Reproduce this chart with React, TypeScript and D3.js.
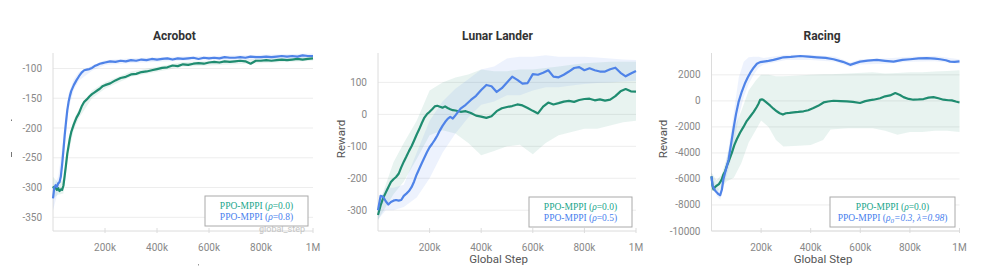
import * as d3 from "d3";
import React from "react";

const GREEN = "#1f8c70";
const BLUE = "#4f83e8";
const GREEN_TXT = "#1ba68c";
const BLUE_TXT = "#4a7fee";

const xTickValues = [200, 400, 600, 800, 1000];
const xTickLabels = ["200k", "400k", "600k", "800k", "1M"];

// Acrobot (steps in thousands)
const acroSteps = [0, 5, 10, 15, 20, 25, 30, 35, 40, 45, 50, 55, 60, 65, 70, 80, 90, 100, 110, 120, 130, 140, 150, 160, 170, 180, 190, 200, 220, 240, 260, 280, 300, 320, 340, 360, 380, 400, 420, 440, 460, 480, 500, 520, 540, 560, 580, 600, 620, 640, 660, 680, 700, 720, 740, 760, 780, 800, 820, 840, 860, 880, 900, 920, 940, 960, 980, 1000];
const acroGreen = [-298, -302, -300, -304, -301, -306, -303, -304, -297, -280, -262, -243, -230, -217, -207, -194, -183, -175, -164, -156, -152, -147, -143, -140, -137, -134, -130, -128, -125, -120, -116, -114, -110, -109, -106, -105, -103, -101, -99, -98, -95, -96, -93, -94, -92, -91, -92, -90, -89, -90, -88, -89, -88, -87, -88, -92, -87, -87, -86, -87, -86, -85, -86, -85, -84, -85, -84, -83];
const acroBlue = [-318, -300, -296, -299, -293, -291, -282, -262, -238, -212, -190, -170, -156, -146, -138, -128, -120, -113, -107, -103, -102, -101, -99, -96, -94, -92, -91, -90, -88, -89, -87, -88, -86, -87, -85, -86, -84, -85, -84, -83, -85, -83, -84, -83, -82, -84, -82, -83, -82, -83, -81, -82, -82, -81, -82, -80, -81, -81, -80, -81, -80, -79, -80, -79, -80, -78, -79, -79];
const acroBandSteps = [0, 20, 40, 60, 80, 100, 150, 200, 300, 500, 1000];
const acroGreenLo = [-318, -312, -310, -242, -203, -183, -150, -134, -114, -97, -87];
const acroGreenHi = [-282, -292, -286, -218, -186, -168, -137, -123, -105, -89, -80];
const acroBlueLo = [-338, -306, -255, -168, -136, -120, -104, -94, -91, -87, -83];
const acroBlueHi = [-300, -282, -218, -142, -118, -106, -95, -86, -83, -80, -75];

// Lunar Lander
const llSteps = [0, 10, 20, 30, 40, 50, 60, 70, 80, 90, 100, 110, 120, 130, 140, 150, 160, 170, 180, 190, 200, 210, 220, 230, 240, 250, 260, 270, 280, 290, 300, 320, 340, 360, 380, 400, 420, 440, 460, 480, 500, 520, 540, 560, 580, 600, 620, 640, 660, 680, 700, 720, 740, 760, 780, 800, 820, 840, 860, 880, 900, 920, 940, 960, 980, 1000];
const llGreen = [-315, -285, -262, -245, -228, -212, -203, -196, -186, -166, -148, -132, -115, -100, -82, -63, -46, -27, -10, 1, 8, 16, 25, 27, 24, 21, 25, 20, 16, 13, 12, 8, 10, 4, -4, -7, -11, -6, 10, 19, 23, 26, 31, 28, 20, 11, 3, 24, 37, 31, 35, 40, 42, 39, 45, 48, 49, 44, 47, 43, 46, 57, 72, 79, 72, 71];
const llBlue = [-300, -255, -258, -272, -282, -274, -270, -268, -270, -268, -255, -248, -240, -228, -210, -188, -170, -152, -135, -118, -103, -92, -80, -66, -50, -36, -24, -14, -8, -13, -3, 18, 30, 45, 58, 76, 92, 88, 70, 82, 100, 118, 108, 96, 98, 126, 124, 130, 138, 118, 116, 124, 134, 145, 148, 138, 144, 138, 134, 134, 141, 146, 130, 119, 128, 136];
const llBandSteps = [0, 30, 60, 100, 150, 200, 250, 300, 350, 400, 450, 500, 550, 600, 650, 700, 750, 800, 850, 900, 950, 1000];
const llGreenLo = [-330, -290, -250, -210, -140, -65, -50, -60, -90, -128, -115, -100, -95, -125, -90, -65, -55, -45, -45, -35, -25, -20];
const llGreenHi = [-290, -220, -150, -90, -20, 75, 100, 115, 125, 140, 135, 135, 140, 140, 145, 150, 155, 160, 162, 165, 165, 165];
const llBlueLo = [-330, -300, -300, -290, -260, -200, -120, -60, -10, 30, 40, 60, 60, 75, 85, 85, 90, 95, 98, 100, 103, 105];
const llBlueHi = [-280, -230, -230, -220, -120, -20, 40, 80, 110, 140, 150, 175, 180, 180, 185, 180, 180, 180, 178, 175, 172, 170];

// Racing
const racingStepsG = [0, 4, 8, 15, 22, 30, 35, 42, 48, 55, 62, 70, 82, 92, 102, 115, 129, 142, 156, 170, 183, 190, 196, 203, 210, 220, 237, 250, 263, 275, 288, 300, 315, 331, 350, 371, 390, 411, 430, 452, 470, 492, 520, 546, 570, 599, 620, 640, 653, 680, 700, 720, 741, 760, 774, 795, 814, 835, 855, 875, 895, 915, 935, 955, 969, 985, 1000];
const racingGreen = [-5800, -6500, -6800, -6600, -6500, -6400, -6250, -6000, -5650, -5400, -5000, -4600, -4000, -3400, -2950, -2450, -2000, -1550, -1200, -850, -450, -200, 80, 120, 60, -100, -370, -600, -800, -950, -1050, -950, -920, -880, -850, -800, -720, -550, -380, -120, -50, 10, -20, -40, -80, -160, -20, 60, 90, 200, 350, 420, 600, 450, 290, 150, 90, 110, 140, 250, 290, 200, 90, 50, 40, -50, -120];
const racingStepsB = [0, 4, 8, 15, 22, 28, 35, 42, 48, 55, 62, 69, 79, 89, 99, 109, 122, 136, 146, 156, 170, 183, 196, 210, 230, 250, 270, 290, 320, 358, 390, 425, 460, 492, 530, 559, 580, 599, 630, 667, 700, 734, 770, 801, 835, 868, 900, 922, 945, 962, 980, 1000];
const racingBlue = [-5800, -6500, -6660, -6900, -7050, -7170, -7250, -6800, -6030, -5500, -5000, -4500, -3300, -2100, -1000, -100, 700, 1400, 1800, 2150, 2550, 2850, 2980, 3020, 3080, 3150, 3250, 3350, 3380, 3450, 3400, 3350, 3300, 3200, 3000, 2770, 2900, 3020, 3100, 3150, 3080, 3020, 3150, 3200, 3260, 3280, 3250, 3200, 3120, 3020, 3000, 3030];
const racingBandStepsG = [0, 20, 40, 60, 90, 120, 150, 180, 200, 230, 260, 290, 350, 400, 450, 480, 550, 650, 700, 750, 800, 850, 900, 950, 1000];
const racingGreenLo = [-6400, -7000, -6700, -6200, -5900, -4800, -3200, -2200, -1500, -2000, -3000, -3500, -3450, -3400, -3000, -2200, -2100, -2100, -2300, -2600, -2400, -2400, -2300, -2300, -2400];
const racingGreenHi = [-5500, -6100, -5700, -4500, -2200, -800, 800, 1600, 2000, 2000, 1900, 1900, 1950, 2000, 2050, 2050, 2100, 2200, 2100, 2150, 2200, 2200, 2250, 2300, 2350];
const racingBandStepsB = [0, 20, 35, 50, 70, 90, 110, 130, 150, 170, 190, 210, 300, 400, 500, 560, 600, 700, 800, 900, 1000];
const racingBlueLo = [-6100, -7300, -7600, -6500, -5200, -3400, -1200, 300, 1300, 2000, 2550, 2800, 3150, 3150, 3000, 2600, 2800, 2850, 3000, 3050, 2850];
const racingBlueHi = [-5500, -6600, -6900, -5500, -3500, -900, 1800, 3000, 3350, 3400, 3400, 3300, 3550, 3550, 3400, 2950, 3200, 3250, 3400, 3450, 3200];

const TOP = 53;
const BOTTOM = 231;
const SANS = "Roboto, 'Noto Sans', sans-serif";
const SERIF = "'Liberation Serif', 'Times New Roman', serif";

function Panel(props: any) {
  const { x0, x1, yDomain, yTicks, title, titleX, yLabel, yLabelX, xLabel, green, blue, gBand, bBand } = props;
  const x = d3.scaleLinear().domain([0, 1000]).range([x0, x1]);
  const y = d3.scaleLinear().domain(yDomain).range([BOTTOM, TOP]);

  const line = d3.line<[number, number]>().x((d) => x(d[0])).y((d) => y(d[1]));
  const area = (b: any) =>
    d3.area<number>()
      .x((i) => x(b.steps[i]))
      .y0((i) => y(b.lo[i]))
      .y1((i) => y(b.hi[i]))(d3.range(b.steps.length));

  return (
    <g>
      <text x={titleX} y={40} textAnchor="middle" fontFamily={SANS} fontSize={12} fontWeight="bold" fill="#333">{title}</text>
      {yTicks.map((t: number) => (
        <g key={t}>
          <line x1={x0} x2={x1} y1={y(t)} y2={y(t)} stroke="#ededed" />
          <text x={x0 - 11} y={y(t)} dy="0.35em" textAnchor="end" fontFamily={SANS} fontSize={10} fill="#888">{String(t)}</text>
        </g>
      ))}
      <line x1={x0} x2={x0} y1={TOP} y2={BOTTOM} stroke="#dcdcdc" />
      <line x1={x0} x2={x1} y1={BOTTOM} y2={BOTTOM} stroke="#dcdcdc" />
      {xTickValues.map((t, i) => (
        <g key={t}>
          <line x1={x(t)} x2={x(t)} y1={BOTTOM - 3} y2={BOTTOM + 2} stroke="#dcdcdc" />
          <text x={x(t)} y={251} textAnchor="middle" fontFamily={SANS} fontSize={10} fill="#888">{xTickLabels[i]}</text>
        </g>
      ))}
      <path d={area(gBand) || ""} fill={GREEN} fillOpacity={0.1} />
      <path d={area(bBand) || ""} fill={BLUE} fillOpacity={0.1} />
      <path d={line(d3.zip(green.steps, green.values) as any) || ""} fill="none" stroke={GREEN} strokeWidth={2.2} strokeLinejoin="round" />
      <path d={line(d3.zip(blue.steps, blue.values) as any) || ""} fill="none" stroke={BLUE} strokeWidth={2.2} strokeLinejoin="round" />
      {xLabel && (
        <text x={titleX + 1} y={263} textAnchor="middle" fontFamily={SANS} fontSize={11.5} fill="#555">{xLabel}</text>
      )}
      {yLabel && (
        <text transform={`translate(${yLabelX},139) rotate(-90)`} textAnchor="middle" dominantBaseline="central" fontFamily={SANS} fontSize={11.5} fill="#555">{yLabel}</text>
      )}
    </g>
  );
}

function Legend({ x, y, w, h, rows }: any) {
  return (
    <g>
      <rect x={x} y={y} width={w} height={h} fill="#fff" stroke="#aaa" strokeWidth={1} />
      {rows.map((r: any, i: number) => (
        <text key={i} x={x + w / 2} y={y + 13 + i * 10.5} textAnchor="middle" fontFamily={SERIF} fontSize={9.5} fill={r.color}>
          {r.content}
        </text>
      ))}
    </g>
  );
}

const rho = (v: string) => (
  <>
    PPO-MPPI (<tspan fontStyle="italic">ρ</tspan>={v})
  </>
);

export default function App() {
  return (
    <svg width={996} height={280} style={{ position: "absolute", left: 0, top: 0, background: "#fff" }}>
      <Panel
        x0={53} x1={313} yDomain={[-373, -74]} yTicks={[-350, -300, -250, -200, -150, -100]}
        title="Acrobot" titleX={174.5}
        green={{ steps: acroSteps, values: acroGreen }}
        blue={{ steps: acroSteps, values: acroBlue }}
        gBand={{ steps: acroBandSteps, lo: acroGreenLo, hi: acroGreenHi }}
        bBand={{ steps: acroBandSteps, lo: acroBlueLo, hi: acroBlueHi }}
      />
      <Panel
        x0={378} x1={636} yDomain={[-365, 192]} yTicks={[-300, -200, -100, 0, 100]}
        title="Lunar Lander" titleX={497.5} xLabel="Global Step" yLabel="Reward" yLabelX={341}
        green={{ steps: llSteps, values: llGreen }}
        blue={{ steps: llSteps, values: llBlue }}
        gBand={{ steps: llBandSteps, lo: llGreenLo, hi: llGreenHi }}
        bBand={{ steps: llBandSteps, lo: llBlueLo, hi: llBlueHi }}
      />
      <Panel
        x0={711.5} x1={959.5} yDomain={[-10000, 3680]} yTicks={[-10000, -8000, -6000, -4000, -2000, 0, 2000]}
        title="Racing" titleX={822} xLabel="Global Step" yLabel="Reward" yLabelX={663}
        green={{ steps: racingStepsG, values: racingGreen }}
        blue={{ steps: racingStepsB, values: racingBlue }}
        gBand={{ steps: racingBandStepsG, lo: racingGreenLo, hi: racingGreenHi }}
        bBand={{ steps: racingBandStepsB, lo: racingBlueLo, hi: racingBlueHi }}
      />
      {/* leftovers of neighbouring labels */}
      <text x={282} y={232} textAnchor="middle" fontFamily={SANS} fontSize={9} fill="#c4c4c4">global_step</text>
      <rect x={11} y={119.5} width={1} height={1.5} fill="#777" />
      <rect x={11} y={152} width={1} height={5} fill="#777" />
      <rect x={198} y={264} width={1} height={1.5} fill="#999" />

      <Legend x={205} y={196} w={103} h={30} rows={[
        { color: GREEN_TXT, content: rho("0.0") },
        { color: BLUE_TXT, content: rho("0.8") },
      ]} />
      <Legend x={529} y={197} w={103} h={30} rows={[
        { color: GREEN_TXT, content: rho("0.0") },
        { color: BLUE_TXT, content: rho("0.5") },
      ]} />
      <Legend x={830} y={197} w={125} h={30} rows={[
        { color: GREEN_TXT, content: rho("0.0") },
        {
          color: BLUE_TXT,
          content: (
            <>
              PPO-MPPI (<tspan fontStyle="italic">ρ</tspan>
              <tspan fontStyle="italic" fontSize={7} dy={2.5}>0</tspan>
              <tspan fontStyle="italic" dy={-2.5}>=0.3, λ=0.98</tspan>)
            </>
          ),
        },
      ]} />
    </svg>
  );
}
